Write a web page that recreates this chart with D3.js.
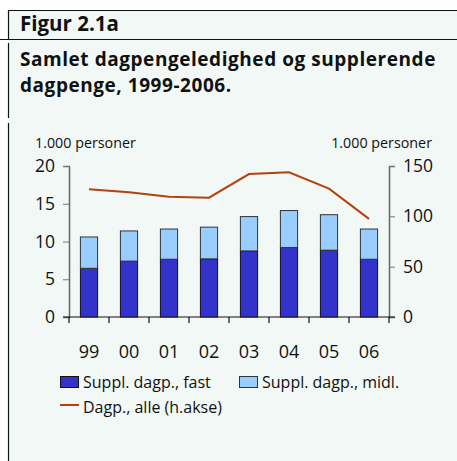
<!DOCTYPE html>
<html>
<head>
    <script src="https://d3js.org/d3.v7.min.js"></script>
    <style>
        body { margin: 0; background: #ffffff; }
        svg { display: block; font-family: "Open Sans", "Noto Sans", sans-serif; }
    </style>
</head>
<body>
    <svg id="chart" width="457" height="461"></svg>
    <script>
        // data
        const years = ["99", "00", "01", "02", "03", "04", "05", "06"];
        const fast = [6.45, 7.4, 7.65, 7.7, 8.75, 9.2, 8.85, 7.65];
        const midl = [4.15, 4.0, 4.0, 4.2, 4.55, 4.9, 4.7, 4.0];
        const alle = [127, 124, 119.5, 118.5, 142, 143.7, 127.5, 97.5];
        const leftTicks = [0, 5, 10, 15, 20];
        const rightTicks = [0, 50, 100, 150];
        const titleLines = ["Samlet dagpengeledighed og supplerende", "dagpenge, 1999-2006."];

        const svg = d3.select("#chart");
        const W = 457, H = 461;

        // background + frame lines
        svg.append("rect").attr("x", 8).attr("y", 10).attr("width", W - 8).attr("height", H - 10).attr("fill", "#f1f8f6");
        svg.append("line").attr("x1", 8).attr("x2", W).attr("y1", 10.5).attr("y2", 10.5).attr("stroke", "#111").attr("stroke-width", 1.2);
        svg.append("line").attr("x1", 0).attr("x2", W).attr("y1", 39.5).attr("y2", 39.5).attr("stroke", "#111").attr("stroke-width", 1.2);
        svg.append("line").attr("x1", 8.5).attr("x2", 8.5).attr("y1", 10).attr("y2", 39).attr("stroke", "#111").attr("stroke-width", 1.2);
        svg.append("line").attr("x1", 8.5).attr("x2", 8.5).attr("y1", 43).attr("y2", 118).attr("stroke", "#111").attr("stroke-width", 1.2);
        svg.append("line").attr("x1", 8.5).attr("x2", 8.5).attr("y1", 123).attr("y2", H).attr("stroke", "#111").attr("stroke-width", 1.2);

        // titles
        svg.append("text").attr("x", 20).attr("y", 31).attr("font-size", 20.5).attr("font-weight", "bold")
            .attr("fill", "#111").text("Figur 2.1a");
        svg.selectAll(".title").data(titleLines).join("text")
            .attr("x", 20).attr("y", (d, i) => 66 + i * 26)
            .attr("font-size", 19).attr("font-weight", "bold").attr("letter-spacing", 0.55)
            .attr("fill", "#111").text(d => d);

        // scales
        const x0 = 69, x1 = 389, yTop = 166, yBot = 317;
        const x = d3.scaleBand().domain(years).range([x0, x1]).paddingInner(0.57).paddingOuter(0.285);
        const xc = d3.scaleBand().domain(years).range([x0, x1]);
        const yL = d3.scaleLinear().domain([0, 20]).range([yBot, yTop]);
        const yR = d3.scaleLinear().domain([0, 150]).range([yBot, yTop]);

        // axes
        const gL = svg.append("g").attr("transform", `translate(${x0},0)`)
            .call(d3.axisLeft(yL).tickValues(leftTicks).tickSize(6).tickPadding(8));
        gL.select(".domain").attr("stroke", "#666").attr("stroke-width", 1.5);
        gL.selectAll(".tick line").attr("stroke", "#777");
        gL.selectAll("text").attr("font-size", 17.5).attr("fill", "#111").attr("font-family", "Open Sans");

        const gR = svg.append("g").attr("transform", `translate(${x1},0)`)
            .call(d3.axisRight(yR).tickValues(rightTicks).tickSize(6).tickPadding(8));
        gR.select(".domain").attr("stroke", "#666").attr("stroke-width", 1.5);
        gR.selectAll(".tick line").attr("stroke", "#777");
        gR.selectAll("text").attr("font-size", 17.5).attr("fill", "#111").attr("font-family", "Open Sans");

        // x axis: baseline, separators between categories, labels
        svg.append("line").attr("x1", x0 - 6).attr("x2", x1 + 6).attr("y1", yBot).attr("y2", yBot)
            .attr("stroke", "#111").attr("stroke-width", 1.2);
        svg.selectAll(".sep").data(years.concat(["end"])).join("line")
            .attr("x1", (d, i) => x0 + i * xc.bandwidth()).attr("x2", (d, i) => x0 + i * xc.bandwidth())
            .attr("y1", yBot).attr("y2", yBot + 6).attr("stroke", "#111").attr("stroke-width", 1.2);
        svg.selectAll(".xlab").data(years).join("text")
            .attr("x", d => xc(d) + xc.bandwidth() / 2).attr("y", 358)
            .attr("text-anchor", "middle").attr("font-size", 18).attr("fill", "#111").text(d => d);

        // unit labels
        svg.append("text").attr("x", 35).attr("y", 148).attr("font-size", 14.3).attr("fill", "#111").text("1.000 personer");
        svg.append("text").attr("x", 432).attr("y", 148).attr("font-size", 14.3).attr("text-anchor", "end")
            .attr("fill", "#111").text("1.000 personer");

        // bars
        svg.selectAll(".fast").data(years).join("rect")
            .attr("x", d => x(d)).attr("width", x.bandwidth())
            .attr("y", (d, i) => yL(fast[i])).attr("height", (d, i) => yBot - yL(fast[i]))
            .attr("fill", "#3333cc").attr("stroke", "#111").attr("stroke-width", 1);
        svg.selectAll(".midl").data(years).join("rect")
            .attr("x", d => x(d)).attr("width", x.bandwidth())
            .attr("y", (d, i) => yL(fast[i] + midl[i])).attr("height", (d, i) => yL(fast[i]) - yL(fast[i] + midl[i]))
            .attr("fill", "#99ccff").attr("stroke", "#333").attr("stroke-width", 1);

        // line
        const line = d3.line().x((d, i) => xc(years[i]) + xc.bandwidth() / 2).y(d => yR(d));
        svg.append("path").datum(alle).attr("d", line).attr("fill", "none")
            .attr("stroke", "#b5420e").attr("stroke-width", 2);

        // legend
        const lg = svg.append("g").attr("font-size", 16).attr("fill", "#111");
        lg.append("rect").attr("x", 60.5).attr("y", 376.5).attr("width", 18).attr("height", 11)
            .attr("fill", "#3333cc").attr("stroke", "#111");
        lg.append("text").attr("x", 83).attr("y", 388).text("Suppl. dagp., fast");
        lg.append("rect").attr("x", 239.5).attr("y", 376.5).attr("width", 18).attr("height", 11)
            .attr("fill", "#99ccff").attr("stroke", "#333");
        lg.append("text").attr("x", 262).attr("y", 388).text("Suppl. dagp., midl.");
        lg.append("line").attr("x1", 60).attr("x2", 79).attr("y1", 405).attr("y2", 405)
            .attr("stroke", "#b5420e").attr("stroke-width", 2);
        lg.append("text").attr("x", 83).attr("y", 413).text("Dagp., alle (h.akse)");
    </script>
</body>
</html>
